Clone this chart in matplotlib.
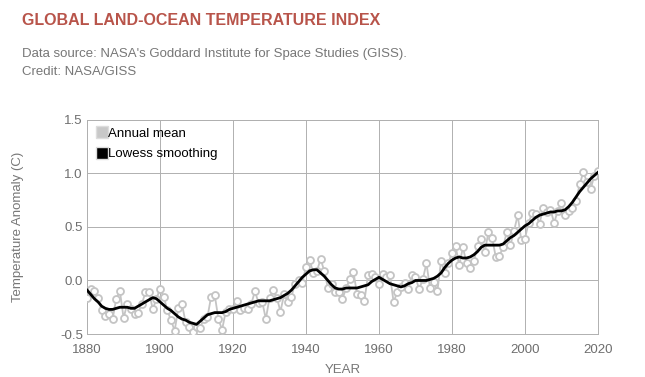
import matplotlib
matplotlib.use("Agg")
import matplotlib.pyplot as plt
from matplotlib.lines import Line2D

years = list(range(1880, 2021))

annual_mean = [
    -0.16, -0.08, -0.10, -0.16, -0.28, -0.33, -0.31, -0.36, -0.17, -0.10,
    -0.35, -0.22, -0.27, -0.31, -0.30, -0.22, -0.11, -0.11, -0.27, -0.17,
    -0.08, -0.15, -0.28, -0.37, -0.47, -0.26, -0.22, -0.39, -0.43, -0.48,
    -0.43, -0.44, -0.36, -0.34, -0.15, -0.14, -0.36, -0.46, -0.29, -0.27,
    -0.27, -0.19, -0.28, -0.26, -0.27, -0.22, -0.10, -0.21, -0.20, -0.36,
    -0.16, -0.09, -0.16, -0.29, -0.13, -0.20, -0.15, -0.03, -0.00, -0.02,
    0.13, 0.19, 0.07, 0.09, 0.20, 0.09, -0.07, -0.03, -0.11, -0.11,
    -0.17, -0.07, 0.01, 0.08, -0.13, -0.14, -0.19, 0.05, 0.06, 0.03,
    -0.03, 0.06, 0.03, 0.05, -0.20, -0.11, -0.06, -0.02, -0.08, 0.05,
    0.03, -0.08, 0.01, 0.16, -0.07, -0.01, -0.10, 0.18, 0.07, 0.16,
    0.26, 0.32, 0.14, 0.31, 0.16, 0.12, 0.18, 0.32, 0.39, 0.27,
    0.45, 0.40, 0.22, 0.23, 0.31, 0.45, 0.33, 0.46, 0.61, 0.38,
    0.39, 0.54, 0.63, 0.62, 0.53, 0.68, 0.64, 0.66, 0.54, 0.65,
    0.72, 0.61, 0.65, 0.68, 0.74, 0.90, 1.01, 0.92, 0.85, 0.98,
    1.02,
]

lowess = [
    -0.09, -0.13, -0.17, -0.20, -0.24, -0.26, -0.27, -0.27, -0.26, -0.25,
    -0.25, -0.25, -0.26, -0.26, -0.24, -0.22, -0.20, -0.18, -0.16, -0.17,
    -0.20, -0.23, -0.26, -0.28, -0.31, -0.34, -0.36, -0.37, -0.39, -0.40,
    -0.41, -0.38, -0.35, -0.32, -0.31, -0.30, -0.30, -0.30, -0.29, -0.27,
    -0.26, -0.25, -0.24, -0.23, -0.22, -0.21, -0.20, -0.19, -0.19, -0.19,
    -0.19, -0.18, -0.17, -0.16, -0.14, -0.12, -0.09, -0.05, -0.01, 0.03,
    0.06, 0.09, 0.10, 0.10, 0.07, 0.04, 0.00, -0.04, -0.07, -0.08,
    -0.08, -0.07, -0.07, -0.07, -0.07, -0.06, -0.05, -0.04, -0.01, 0.01,
    0.03, 0.01, -0.01, -0.03, -0.04, -0.05, -0.06, -0.05, -0.03, -0.02,
    -0.00, 0.00, 0.00, 0.00, 0.01, 0.02, 0.04, 0.07, 0.12, 0.16,
    0.19, 0.21, 0.22, 0.21, 0.21, 0.22, 0.24, 0.27, 0.31, 0.33,
    0.33, 0.33, 0.33, 0.33, 0.34, 0.37, 0.40, 0.42, 0.45, 0.48,
    0.51, 0.53, 0.56, 0.59, 0.61, 0.62, 0.63, 0.64, 0.64, 0.65,
    0.65, 0.66, 0.69, 0.73, 0.78, 0.83, 0.87, 0.91, 0.95, 0.98,
    1.01,
]

x_ticks = [1880, 1900, 1920, 1940, 1960, 1980, 2000, 2020]
y_ticks = [-0.5, 0.0, 0.5, 1.0, 1.5]

plt.rcParams['font.family'] = ['Liberation Sans', 'DejaVu Sans']

fig = plt.figure(figsize=(6.45, 3.77), dpi=100)
ax = fig.add_axes([0.135, 0.114, 0.792, 0.568])

ax.plot(years, annual_mean, color='#c4c4c4', lw=1.3, marker='o', ms=5,
        mfc='white', mec='#c4c4c4', mew=1.3, zorder=3)
ax.plot(years, lowess, color='black', lw=2, zorder=4)

ax.set_xlim(1880, 2020)
ax.set_ylim(-0.5, 1.5)
ax.set_xticks(x_ticks)
ax.set_yticks(y_ticks)
ax.set_yticklabels([f"{v:.1f}" for v in y_ticks])
ax.grid(True, color='#b0b0b0', lw=0.7)
ax.set_axisbelow(True)
for s in ax.spines.values():
    s.set_color('#b0b0b0')
    s.set_linewidth(0.7)
ax.tick_params(length=0, labelsize=9.5, colors='#6e6e6e')
ax.tick_params(axis='y', pad=3)
ax.tick_params(axis='x', pad=7)
ax.set_xlabel('YEAR', fontsize=9.5, color='#777777', labelpad=6)
ax.set_ylabel('Temperature Anomaly (C)', fontsize=9.5, color='#777777', labelpad=26)

handles = [
    Line2D([], [], ls='none', marker='s', ms=9, mfc='#c8c8c8', mec='#dddddd'),
    Line2D([], [], ls='none', marker='s', ms=9, mfc='black', mec='#dddddd'),
]
ax.legend(handles, ['Annual mean', 'Lowess smoothing'], loc='upper left',
          frameon=False, fontsize=9.5, handletextpad=0.0, handlelength=1.0,
          borderaxespad=0.2, labelspacing=0.6)

fig.text(0.034, 0.935, 'GLOBAL LAND-OCEAN TEMPERATURE INDEX', fontsize=11.5,
         fontweight='bold', color='#b8544a')
fig.text(0.034, 0.85, "Data source: NASA's Goddard Institute for Space Studies (GISS).",
         fontsize=9.5, color='#777777')
fig.text(0.034, 0.8, 'Credit: NASA/GISS', fontsize=9.5, color='#777777')

fig.savefig('out.png', dpi=100)
